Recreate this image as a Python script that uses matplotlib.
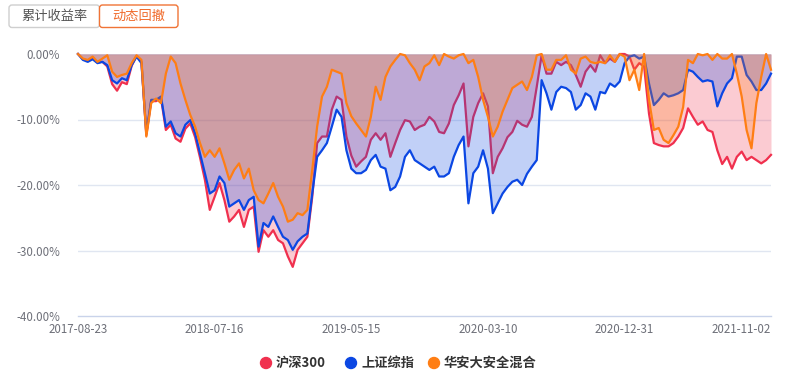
import matplotlib
matplotlib.use('Agg')
import matplotlib.pyplot as plt
from matplotlib.patches import FancyBboxPatch, Circle
import numpy as np

plt.rcParams['font.family'] = ['Noto Sans CJK SC', 'DejaVu Sans']

# ---------------- data ----------------
x_labels = ['2017-08-23', '2018-07-16', '2019-05-15', '2020-03-10', '2020-12-31', '2021-11-02']
x_label_pos = [0, 28, 56, 84, 112, 142]
y_ticks = [0, -10, -20, -30, -40]

series_names = ['沪深300', '上证综指', '华安大安全混合']

hs300 = [0, -0.8, -1.0, -0.7, -1.3, -1.2, -1.9, -4.6, -5.6, -4.3,
         -4.6, -1.8, -0.3, -1.2, -12.4, -7.2, -7.2, -6.7, -11.6, -10.8,
         -12.9, -13.4, -11.4, -10.6, -12.7, -15.8, -19.2, -23.8, -21.8, -19.7,
         -22.3, -25.6, -24.8, -23.8, -26.4, -23.8, -23.3, -30.2, -26.9, -27.9,
         -26.9, -28.4, -28.9, -30.9, -32.5, -29.9, -28.9, -27.9, -21.8, -13.6,
         -12.6, -12.6, -8.5, -6.5, -7.0, -12.6, -15.5, -17.2, -16.4, -15.7,
         -13.1, -12.1, -13.1, -12.1, -15.7, -13.6, -11.6, -10.1, -10.3, -11.6,
         -11.1, -10.8, -9.6, -10.3, -11.9, -12.1, -10.6, -7.8, -6.3, -4.5,
         -14.1, -9.6, -7.5, -6.0, -8.0, -18.2, -15.7, -14.4, -12.7, -11.9,
         -10.2, -10.8, -11.1, -9.6, -5.0, -0.2, -3.0, -3.0, -1.2, -1.7,
         -1.2, -1.7, -3.2, -5.0, -2.7, -1.7, -2.7, -0.2, -1.4, -0.7,
         -1.2, 0, 0, -0.4, -2.4, -1.4, -1.9, -9.1, -13.6, -13.9,
         -14.1, -14.1, -13.6, -12.6, -11.3, -8.3, -9.6, -10.8, -10.3, -11.6,
         -11.9, -14.7, -16.8, -15.7, -17.5, -15.7, -14.9, -16.2, -15.7, -16.2,
         -16.7, -16.2, -15.4]

szzs = [0, -0.9, -1.2, -0.8, -1.4, -1.2, -1.7, -4.0, -4.5, -3.7,
        -4.0, -1.7, -0.4, -1.4, -12.1, -7.0, -7.0, -6.5, -11.1, -10.3,
        -12.1, -12.6, -10.8, -10.1, -12.1, -15.2, -18.2, -21.3, -20.8, -18.7,
        -19.7, -23.3, -22.8, -22.3, -23.8, -22.3, -21.8, -29.4, -25.8, -26.4,
        -24.8, -26.4, -27.9, -28.4, -29.9, -28.6, -27.9, -27.4, -21.3, -15.7,
        -14.7, -13.6, -11.1, -8.5, -9.6, -14.7, -17.5, -18.2, -18.2, -17.7,
        -16.2, -15.4, -17.2, -17.5, -20.8, -20.3, -18.7, -15.7, -14.7, -16.2,
        -16.7, -17.2, -17.7, -17.2, -18.7, -18.7, -18.2, -15.7, -13.9, -12.6,
        -22.8, -18.2, -17.2, -14.7, -17.5, -24.3, -22.8, -21.3, -20.3, -19.5,
        -19.2, -20.0, -18.3, -17.2, -16.2, -4.0, -6.0, -8.5, -5.8, -5.0,
        -5.2, -5.8, -8.5, -7.8, -6.0, -6.5, -8.5, -5.8, -6.0, -4.5,
        -5.0, -4.2, -1.4, -0.4, -0.2, -0.7, -0.4, -4.5, -7.8, -7.0,
        -6.0, -6.5, -6.3, -6.0, -5.5, -2.4, -2.7, -3.5, -4.2, -4.0,
        -4.2, -8.0, -6.0, -4.5, -3.7, -0.4, -0.4, -3.2, -4.2, -5.5,
        -5.5, -4.5, -3.0]

huaan = [0, -0.7, -0.9, -0.4, -1.2, -0.7, -0.2, -2.7, -3.5, -3.2,
         -3.0, -1.4, -0.2, -0.9, -12.6, -7.5, -6.8, -7.5, -3.0, -0.4,
         -1.4, -4.5, -7.0, -9.3, -11.1, -13.6, -15.7, -14.7, -15.7, -14.4,
         -16.7, -19.2, -17.7, -16.7, -19.0, -17.5, -20.8, -22.3, -22.8, -21.3,
         -19.7, -21.8, -23.3, -25.6, -25.3, -24.3, -24.6, -23.8, -17.7, -11.1,
         -6.5, -5.0, -2.4, -2.7, -3.0, -7.5, -9.5, -10.6, -11.6, -12.6,
         -9.6, -5.0, -7.0, -3.5, -1.9, -0.9, 0, -0.2, -1.4, -2.4,
         -4.0, -1.9, -1.4, -0.2, -1.7, 0, -0.4, -0.7, -0.2, 0,
         -1.4, -0.9, -3.5, -7.0, -9.6, -12.6, -11.1, -8.8, -7.0, -5.2,
         -4.7, -4.2, -5.5, -3.5, -0.2, 0, -2.4, -2.4, -0.9, -0.9,
         -0.2, -2.4, -3.0, -0.7, -0.4, -1.2, -1.4, -1.2, -1.4, -0.2,
         -1.2, 0, -0.4, -4.0, -2.4, -5.5, 0, -7.0, -11.6, -11.3,
         -13.1, -13.6, -12.4, -11.1, -8.1, -0.9, -1.4, 0, -0.2, 0,
         -0.9, 0, -0.7, -0.7, 0, -3.0, -6.5, -11.6, -14.4, -7.5,
         -3.5, 0, -2.4]

colors = ['#f0304e', '#0b47e3', '#ff7e14']

# ---------------- figure ----------------
W, H = 786, 382
fig = plt.figure(figsize=(W / 100, H / 100), dpi=100)
ax = fig.add_axes([78 / W, 66 / H, (771 - 78) / W, (316 - 54) / H])

x = np.arange(len(hs300))
z = 1
for vals, c in zip([hs300, szzs, huaan], colors):
    ax.fill_between(x, 0, vals, color=c, alpha=0.25, linewidth=0, zorder=z)
    ax.plot(x, vals, color=c, lw=1.6, zorder=z + 1, clip_on=False,
            solid_joinstyle='round')
    z += 2

ax.set_xlim(0, len(hs300) - 1)
ax.set_ylim(-40, 0)
for v in y_ticks[:-1]:
    ax.axhline(v, color='#e0e6f1', lw=1, zorder=0.5)
for s in ['top', 'right', 'left']:
    ax.spines[s].set_visible(False)
ax.spines['bottom'].set_color('#c9d3ea')
ax.spines['bottom'].set_linewidth(1)

ax.set_yticks(y_ticks)
ax.set_yticklabels([f'{v:.2f}%' for v in y_ticks])
ax.set_xticks(x_label_pos)
ax.set_xticklabels(x_labels)
ax.tick_params(axis='y', length=0, pad=13, labelcolor='#6e7079', labelsize=8.3)
ax.tick_params(axis='x', length=0, pad=5, labelcolor='#6e7079', labelsize=8.3)
lbls = ax.get_xticklabels()
lbls[-1].set_horizontalalignment('right')

# ---------------- overlay: buttons + legend ----------------
ov = fig.add_axes([0, 0, 1, 1])
ov.set_xlim(0, W)
ov.set_ylim(H, 0)
ov.axis('off')

b1 = FancyBboxPatch((9, 5), 90.5, 22.5, boxstyle='round,pad=0,rounding_size=3',
                    fc='white', ec='#cfcfcf', lw=1)
ov.add_patch(b1)
b2 = FancyBboxPatch((99.5, 5), 78.5, 22.5, boxstyle='round,pad=0,rounding_size=3',
                    fc='white', ec='#f07436', lw=1)
ov.add_patch(b2)
ov.text(54, 16.5, '累计收益率', ha='center', va='center', fontsize=9.5, color='#555555')
ov.text(139, 16.5, '动态回撤', ha='center', va='center', fontsize=9.5, color='#f06a2a')

leg_x = [266, 351, 434]
for name, c, lx in zip(series_names, colors, leg_x):
    ov.add_patch(Circle((lx, 363), 5.5, color=c))
    ov.text(lx + 10, 363, name, ha='left', va='center', fontsize=9.5,
            color='#333333', fontweight='bold')

fig.savefig('out.png', dpi=100)
